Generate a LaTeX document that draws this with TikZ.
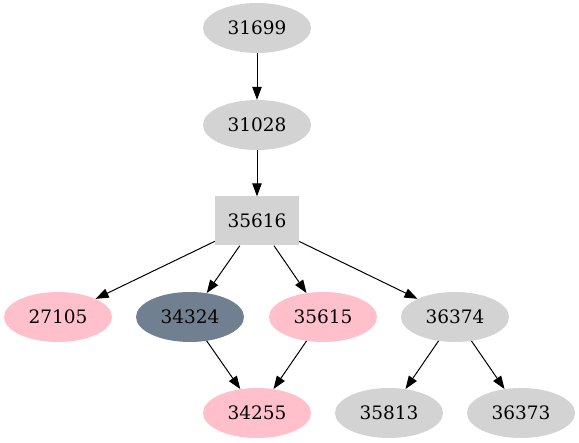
\documentclass[tikz,border=0pt]{standalone}
\usepackage{fontspec}
\setmainfont{DejaVu Serif}
\usetikzlibrary{arrows.meta,shapes.geometric}
\definecolor{lgray}{HTML}{D3D3D3}
\definecolor{gpink}{HTML}{FFC0CB}
\definecolor{slgray}{HTML}{708090}
\begin{document}
\begin{tikzpicture}[x=1pt,y=-1pt,
  el/.style={ellipse,minimum width=108pt,minimum height=50pt,inner sep=0pt,font=\fontsize{18.5}{20}\selectfont},
  grayel/.style={el,fill=lgray},
  pinkel/.style={el,fill=gpink},
  slateel/.style={el,fill=slgray},
  boxn/.style={rectangle,fill=lgray,minimum width=84pt,minimum height=49pt,inner sep=0pt,font=\fontsize{18.5}{20}\selectfont},
  edge/.style={draw=black,line width=1pt,-{Triangle[length=13pt,width=9.5pt]}}]
\useasboundingbox (0,0) rectangle (579,443);
\node[grayel] (n31699) at (257,28) {31699};
\node[grayel] (n31028) at (257,125) {31028};
\node[boxn] (n35616) at (257,221) {35616};
\node[pinkel] (n27105) at (58,317) {27105};
\node[slateel] (n34324) at (190,317) {34324};
\node[pinkel] (n35615) at (323,317) {35615};
\node[grayel] (n36374) at (455,317) {36374};
\node[pinkel] (n34255) at (257,413) {34255};
\node[grayel] (n35813) at (389,413) {35813};
\node[grayel] (n36373) at (521,413) {36373};
\draw[edge] (n31699) -- (n31028);
\draw[edge] (n31028) -- (n35616);
\draw[edge] (n35616) -- (n27105);
\draw[edge] (n35616) -- (n34324);
\draw[edge] (n35616) -- (n35615);
\draw[edge] (n35616) -- (n36374);
\draw[edge] (n34324) -- (n34255);
\draw[edge] (n35615) -- (n34255);
\draw[edge] (n36374) -- (n35813);
\draw[edge] (n36374) -- (n36373);
\end{tikzpicture}
\end{document}
